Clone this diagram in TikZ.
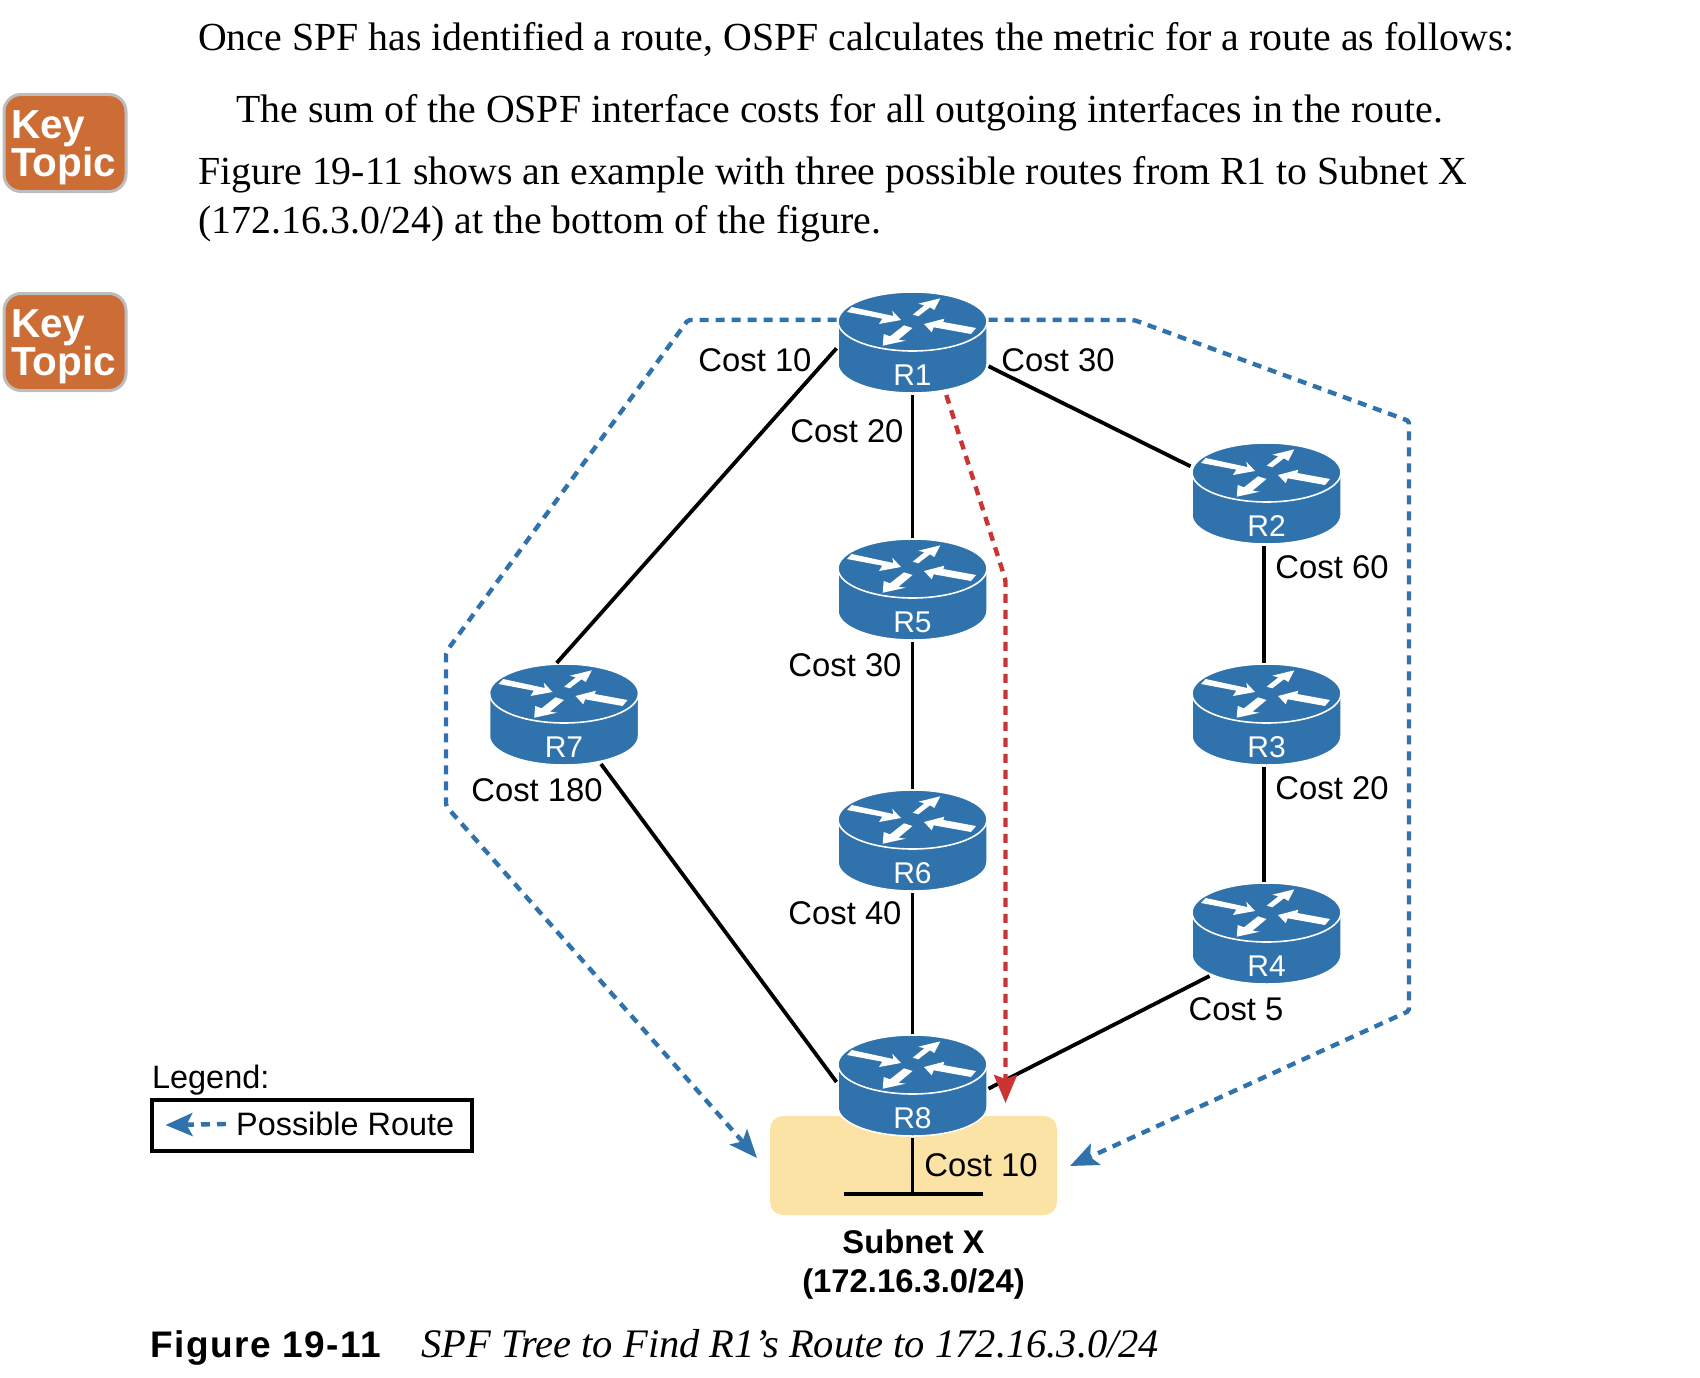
\documentclass[tikz,border=0pt]{standalone}
\usepackage{fontspec}
\setmainfont{Liberation Serif}
\setsansfont{Liberation Sans}
\usepackage{tikz}
\usetikzlibrary{arrows.meta}
\definecolor{routeblue}{HTML}{3072AB}
\definecolor{routered}{HTML}{CC3333}
\definecolor{subnetyellow}{HTML}{FAE3A5}
\definecolor{keyorange}{HTML}{CC6D35}
\definecolor{keygray}{HTML}{BDBDBD}
\tikzset{
    router/.style={minimum width=152pt, minimum height=104pt, inner sep=0pt, outer sep=0pt,
        path picture={
            \begin{scope}[shift={(path picture bounding box.center)}, x=1pt, y=1pt]
            \draw[fill=routeblue, draw=white, line width=1.5pt] (-74.5,21.5) arc[start angle=180, end angle=0, x radius=74.5pt, y radius=29.5pt] -- (74.5,-21) arc[start angle=0, end angle=-180, x radius=74.5pt, y radius=29pt] -- cycle;
            \draw[white, line width=1.6pt] (-74.5,21.5) arc[start angle=180, end angle=360, x radius=74.5pt, y radius=29.5pt];
            \fill[white] (-60.8,36) -- (-19.2,27) -- (-20.2,32.3) -- (-11.5,23) -- (-33.5,19) -- (-30.2,24.3) -- (-65.5,31) -- cycle;
            \fill[white] (0.2,28.3) -- (11.8,37.7) -- (5.8,39.3) -- (27.8,44.7) -- (21.8,33) -- (17.5,35.7) -- (5.8,26.7) -- cycle;
            \fill[white] (63.5,15) -- (30.8,21) -- (31.8,24.3) -- (11.5,19) -- (19.2,10.7) -- (21.2,15.7) -- (58.5,9) -- cycle;
            \fill[white] (0,15) -- (-14,3.3) -- (-6.8,2.3) -- (-29.8,-2.7) -- (-28.8,9) -- (-22.5,6.7) -- (-8.5,17.7) -- cycle;
            \end{scope}
        }},
    routerlabel/.style={text=white, font=\sffamily\fontsize{30}{30}\selectfont, yshift=-32pt, inner sep=0pt},
    link/.style={line width=3.8pt},
    route/.style={line width=4.4pt, dash pattern=on 9pt off 7pt, color=routeblue, rounded corners=2pt},
    costlabel/.style={font=\sffamily\fontsize{32.8}{32.8}\selectfont, inner sep=0pt},
    bodytext/.style={font=\fontsize{39.8}{39.8}\selectfont, anchor=base west, inner sep=0pt},
    keytopic/.style={draw=keygray, line width=3pt, fill=keyorange, rounded corners=17pt, minimum width=122pt, minimum height=97pt, inner sep=0pt},
    keytext/.style={text=white, font=\sffamily\bfseries\fontsize{40.5}{35.5}\selectfont, align=left, anchor=north west, inner sep=0pt}
}
\begin{document}
\begin{tikzpicture}[x=1pt, y=-1pt]
\useasboundingbox (0,0) rectangle (1700,1378);
% text above the figure
\foreach \Point/\PointLabel [count=\i] in {(198,50.5)/{Once SPF has identified a route, OSPF calculates the metric for a route as follows:}, (236,123)/{The sum of the OSPF interface costs for all outgoing interfaces in the route.}, (198,184)/{Figure 19-11 shows an example with three possible routes from R1 to Subnet X}, (198,233)/{(172.16.3.0/24) at the bottom of the figure.}}
    \node[bodytext] (line\i) at \Point {\PointLabel};
\foreach \Point/\Name in {(65,143)/keyA, (65,342)/keyB} {
    \node[keytopic] (\Name) at \Point {};
    \node[keytext] (\Name text) at ([xshift=-54pt,yshift=33pt]\Name.center) {Key\\Topic};
}
% subnet box
\node[fill=subnetyellow, rounded corners=13pt, minimum width=287pt, minimum height=99pt, inner sep=0pt] (subnet) at (913.5,1165.5) {};
% routers
\foreach \Name/\Point in {R1/{(912.5,343)}, R2/{(1266.5,494)}, R5/{(912.5,590)}, R7/{(564,715)}, R3/{(1266.5,715)}, R6/{(912.5,841)}, R4/{(1266.5,934)}, R8/{(912.5,1086)}}
    \node[router, label={[routerlabel]center:\Name}] (\Name) at \Point {};
% links
\draw[link] (R1.184) -- (R7.98);
\draw[link] ([xshift=37pt,yshift=-49pt]R7.center) -- (R8.177);
\draw[link] (R1.south) -- (R5.north);
\draw[link] (R5.south) -- (R6.north);
\draw[link] (R6.south) -- (R8.north);
\draw[link] (R1.-17) -- (R2.160);
\draw[link] (R2.-93) -- (R3.93);
\draw[link] (R3.-93) -- (R4.93);
\draw[link] ([xshift=-57pt,yshift=-42pt]R4.center) -- (R8.-2);
% bus
\coordinate (busleft) at (844,1194);
\coordinate (busright) at (983,1194);
\coordinate (busmid) at (912.5,1194);
\draw[link] (busleft) -- (busright);
\draw[link] (R8.south) -- (busmid);
% routes
\coordinate (leftA) at (688,320);
\coordinate (leftB) at (446,652);
\coordinate (leftC) at (446,806);
\coordinate (lefttip) at (757,1158);
\coordinate (rightA) at (1134,320);
\coordinate (rightB) at (1409,421);
\coordinate (rightC) at (1409,1011);
\coordinate (righttip) at (1070,1166);
\coordinate (redbend) at (1005.5,580);
\coordinate (redtip) at (1005.5,1103);
\draw[route, -{Stealth[length=28pt, width=23pt, inset=6pt]}] (R1.163) -- (leftA) -- (leftB) -- (leftC) -- (lefttip);
\draw[route, -{Stealth[length=28pt, width=23pt, inset=6pt]}] (R1.17) -- (rightA) -- (rightB) -- (rightC) -- (righttip);
\draw[route, color=routered, -{Stealth[length=28pt, width=23pt, inset=4pt]}] (R1.-57) -- (redbend) -- (redtip);
% labels
\foreach \Point/\PointLabel [count=\i] in {(755,360)/10, (1058,360)/30, (847,431)/20, (1332,567)/60, (845,665)/30, (537,790)/180, (1332,788)/20, (845,913)/40, (1236,1009)/5, (981,1165)/10}
    \node[costlabel] (cost\i) at \Point {Cost \PointLabel};
\node[font=\sffamily\bfseries\fontsize{32.8}{39}\selectfont, align=center, inner sep=0pt] (subnetlabel) at (913.5,1265) {Subnet X\\(172.16.3.0/24)};
% legend
\node[costlabel, font=\sffamily\fontsize{32.4}{32.4}\selectfont, anchor=base west] (legendtitle) at (152,1088) {Legend:};
\node[draw, line width=4pt, minimum width=320pt, minimum height=51pt, inner sep=0pt] (legendbox) at (311.5,1125) {};
\node[costlabel, font=\sffamily\fontsize{32.4}{32.4}\selectfont, anchor=west] (legendtext) at (236,1124) {Possible Route};
\draw[route, -{Stealth[length=27pt, width=23pt, inset=6pt]}] ([xshift=-10pt]legendtext.west) -- ([xshift=16pt]legendbox.west);
% caption
\node[font=\sffamily\bfseries\fontsize{37}{37}\selectfont\addfontfeatures{LetterSpace=4}, anchor=base west, inner sep=0pt] (figlabel) at (150,1357) {Figure 19-11};
\node[font=\itshape\fontsize{40.5}{40.5}\selectfont, anchor=base west, inner sep=0pt] (figtitle) at (421,1357) {SPF Tree to Find R1’s Route to 172.16.3.0/24};
\end{tikzpicture}
\end{document}
